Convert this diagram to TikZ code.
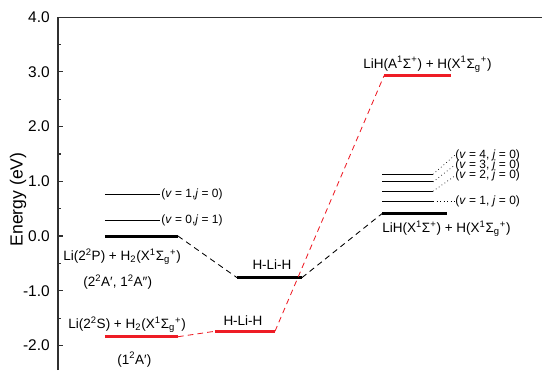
\documentclass[tikz,border=0pt]{standalone}
\usepackage{fontspec}
\setmainfont{Liberation Sans}
\usetikzlibrary{calc}
\definecolor{rot}{HTML}{EE1C25}
\definecolor{grau}{HTML}{303030}
\tikzset{
  ax/.style={grau,line width=0.8pt},
  niveau/.style={black,line width=2.1pt},
  niveaur/.style={rot,line width=2.1pt},
  vib/.style={black,line width=0.6pt},
  hilf/.style={black,line width=0.6pt,dash pattern=on 4pt off 3pt},
  hilfr/.style={rot,line width=0.6pt,dash pattern=on 4pt off 3pt},
  punkt/.style={black,line width=0.5pt,dotted},
  lab/.style={font=\fontsize{9.6}{11}\selectfont,inner sep=0pt},
  vlab/.style={font=\fontsize{8.5}{10}\selectfont,inner sep=0pt},
  tlab/.style={font=\fontsize{11}{13}\selectfont,inner sep=0pt},
}
\newcommand{\sg}{Σ\textsubscript{g}\textsuperscript{+}}

\begin{document}
\begin{tikzpicture}[x=0.025cm,y=1.3675cm]
  \useasboundingbox (-58,-2.4497) rectangle (484,4.3144);
  % Achse
  \draw[ax] (0,-2.45) -- (0,4) -- (484,4);
  \foreach \e in {-2,-1,...,4}{
    \draw[ax] (0,\e) -- (5,\e);
    \node[tlab,anchor=east] (tick\e) at (-8,\e) {\e.0};}
  \foreach \e in {-1.5,-0.5,...,3.5}
    \draw[ax] (0,\e) -- (3,\e);
  \node[tlab,font=\fontsize{12.5}{14}\selectfont,rotate=90] (ylab) at (-40,0.67) {Energy (eV)};
  % Niveaus
  \coordinate (pl) at (47,0);      \coordinate (pr) at (120,0);
  \coordinate (sl) at (47,-1.84);  \coordinate (sr) at (120,-1.84);
  \coordinate (hbl) at (179,-0.76); \coordinate (hbr) at (244,-0.76);
  \coordinate (hrl) at (157,-1.74); \coordinate (hrr) at (217,-1.74);
  \coordinate (xl) at (324,0.41);  \coordinate (xr) at (389,0.41);
  \coordinate (al) at (326,2.93);  \coordinate (ar) at (393,2.93);
  \draw[niveau] (pl) -- (pr);
  \draw[niveau] (hbl) -- (hbr);
  \draw[niveau] (xl) -- (xr);
  \draw[niveaur] (sl) -- (sr);
  \draw[niveaur] (hrl) -- (hrr);
  \draw[niveaur] (al) -- (ar);
  % Verbindungen
  \draw[hilf] (pr) -- (hbl);
  \draw[hilf] (hbr) -- (xl);
  \draw[hilfr] (sr) -- (hrl);
  \draw[hilfr] (hrr) -- (al);
  % Schwingungsniveaus Li + H2
  \foreach \e/\v/\j in {0.28/0/1, 0.77/1/0}{
    \draw[vib] (47,\e) coordinate (h\v) -- (102,\e);
    \node[vlab,anchor=west] (hv\v) at (103,\e) {(\textit{v} = \v,\textit{j} = \j)};}
  % Schwingungsniveaus LiH
  \foreach \e/\v/\l in {0.64/1/0.64, 0.82/2/1.10, 0.99/3/1.30, 1.13/4/1.48}{
    \draw[vib] (324,\e) -- (375,\e) coordinate (le\v);
    \node[vlab,anchor=west] (lv\v) at (397,\l) {(\textit{v} = \v, \textit{j} = 0)};
    \draw[punkt] (le\v) -- (lv\v.west);}
  % Beschriftungen
  \node[lab,anchor=base west] (lp) at (5,-0.44) {Li(2\textsuperscript{2}P) + H\textsubscript{2}(X\textsuperscript{1}\sg)};
  \node[lab,anchor=base west] (lpz) at (25,-0.93) {(2\textsuperscript{2}A′, 1\textsuperscript{2}A″)};
  \node[lab,anchor=base west] (ls) at (10,-1.69) {Li(2\textsuperscript{2}S) + H\textsubscript{2}(X\textsuperscript{1}\sg)};
  \node[lab,anchor=base west] (lsz) at (59,-2.34) {(1\textsuperscript{2}A′)};
  \node[lab,anchor=base] (lhb) at (214,-0.62) {H-Li-H};
  \node[lab,anchor=base] (lhr) at (185,-1.63) {H-Li-H};
  \node[lab,anchor=base west] (lx) at (324,0.064) {LiH(X\textsuperscript{1}Σ\textsuperscript{+}) + H(X\textsuperscript{1}\sg)};
  \node[lab,anchor=base west] (la) at (305,3.07) {LiH(A\textsuperscript{1}Σ\textsuperscript{+}) + H(X\textsuperscript{1}\sg)};
\end{tikzpicture}
\end{document}
